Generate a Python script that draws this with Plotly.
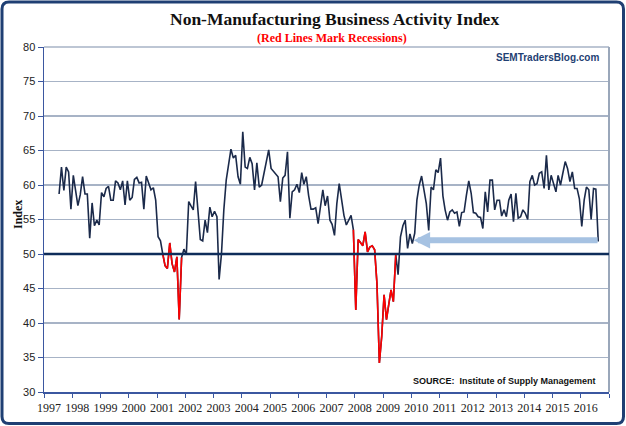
import pandas as pd
import plotly.graph_objects as go

# Monthly ISM Non-Manufacturing Business Activity Index, Jul 1997 - Aug 2016
start_month = "1997-07-01"
index_values = [
    # 1997 (Jul-Dec)
    58.7, 62.6, 59.2, 62.6, 61.9, 56.5,
    # 1998
    61.4, 59.0, 57.0, 58.6, 61.2, 58.7, 58.7, 52.3, 57.4, 54.1, 54.9, 54.2,
    # 1999
    58.9, 58.3, 59.5, 59.8, 57.8, 57.8, 60.6, 60.3, 59.3, 60.6, 57.1, 60.6,
    # 2000
    57.8, 58.2, 60.8, 61.1, 60.3, 60.4, 56.5, 61.3, 60.4, 59.3, 59.6, 57.8,
    # 2001
    52.5, 51.9, 50.1, 48.3, 47.9, 51.6, 48.6, 47.4, 49.6, 40.5, 49.5, 50.7,
    # 2002
    49.9, 57.6, 57.0, 56.4, 60.5, 56.4, 52.1, 51.9, 54.9, 53.1, 56.8, 55.4,
    # 2003
    56.2, 55.4, 46.3, 50.1, 56.4, 60.7, 63.1, 65.2, 63.9, 64.3, 61.2, 60.1,
    # 2004
    67.7, 62.6, 62.4, 64.0, 63.1, 59.3, 63.2, 59.7, 60.0, 61.7, 63.2, 65.1,
    # 2005
    62.4, 62.0, 61.7, 61.2, 57.6, 61.0, 61.4, 64.8, 55.2, 59.0, 59.3, 60.1,
    # 2006
    58.9, 61.8, 60.1, 61.2, 58.5, 56.5, 56.5, 56.7, 54.4, 56.8, 59.3, 57.0,
    # 2007
    58.4, 54.9, 54.3, 52.7, 57.3, 60.2, 57.8, 55.6, 54.2, 55.0, 55.6, 53.5,
    # 2008
    41.9, 52.1, 51.6, 51.2, 53.2, 50.3, 51.0, 51.2, 50.6, 45.7, 34.2, 38.0,
    # 2009
    44.1, 40.5, 42.6, 44.8, 43.1, 49.9, 47.0, 52.5, 54.1, 54.9, 50.8, 52.9,
    # 2010
    51.5, 53.0, 57.8, 60.0, 61.3, 59.3, 57.3, 53.4, 59.7, 59.3, 62.2, 61.8,
    # 2011
    63.9, 58.4, 56.4, 54.9, 56.1, 56.4, 55.9, 56.1, 54.0, 56.0, 56.1, 58.5,
    # 2012
    60.6, 58.8, 56.0, 55.9, 55.4, 55.3, 53.7, 59.0, 56.1, 60.7, 60.7, 56.4,
    # 2013
    57.8, 57.8, 55.5, 56.4, 55.4, 57.8, 58.7, 54.7, 58.8, 55.2, 55.4, 56.4,
    # 2014
    55.9, 55.0, 60.5, 61.4, 60.0, 60.2, 61.7, 61.9, 59.5, 64.3, 59.3, 61.4,
    # 2015
    60.2, 59.0, 61.4, 60.0, 61.7, 63.4, 62.4, 60.5, 61.9, 59.5, 59.5, 58.0,
    # 2016 (Jan-Aug)
    54.0, 57.8, 59.7, 59.3, 55.0, 59.5, 59.4, 51.8,
]

# NBER recessions (first and last month drawn in red)
recessions = [("2001-03-01", "2001-11-01"), ("2007-12-01", "2009-06-01")]

year_ticks = list(range(1997, 2018))
year_labels = [str(y) for y in range(1997, 2017)] + [""]
y_ticks = [30, 35, 40, 45, 50, 55, 60, 65, 70, 75, 80]

months = pd.date_range(start_month, periods=len(index_values), freq="MS")
x_dates = months + pd.Timedelta(days=14)

red_values = []
for m, v in zip(months, index_values):
    in_rec = any(pd.Timestamp(a) <= m <= pd.Timestamp(b) for a, b in recessions)
    red_values.append(v if in_rec else None)

fig = go.Figure()
fig.add_trace(go.Scatter(x=x_dates, y=index_values, mode="lines",
                         line=dict(color="#1B2A4A", width=1.6), hoverinfo="skip"))
fig.add_trace(go.Scatter(x=x_dates, y=red_values, mode="lines",
                         line=dict(color="#FF0000", width=1.6), connectgaps=False,
                         hoverinfo="skip"))

grid_col = "#A7B3C6"
axis_col = "#3B57A0"

fig.update_layout(
    width=626, height=426,
    margin=dict(l=44, r=17, t=47, b=34, autoexpand=False),
    paper_bgcolor="white", plot_bgcolor="white",
    showlegend=False,
    xaxis=dict(type="date", range=["1997-01-01", "2017-01-01"], automargin=False,
               tickvals=[f"{y}-01-01" for y in year_ticks], ticktext=year_labels,
               showgrid=False, showline=True, linecolor=axis_col, linewidth=1.5,
               ticks="outside", ticklen=4, tickcolor=axis_col, tickwidth=1,
               ticklabelshift=5,
               tickfont=dict(family="Liberation Serif", size=12, color="#222222"),
               zeroline=False),
    yaxis=dict(range=[30, 80], tickvals=y_ticks, automargin=False,
               showgrid=True, gridcolor=grid_col, gridwidth=1.5,
               showline=True, linecolor=axis_col, linewidth=1.5,
               ticks="outside", ticklen=5, tickcolor=axis_col,
               tickfont=dict(family="Liberation Sans", size=11, color="#222222"),
               zeroline=False),
)

# Border of plot area (top and right), the 50 line, and the outer frame
fig.add_shape(type="line", xref="paper", yref="paper", x0=0, x1=1, y0=1, y1=1,
              line=dict(color=grid_col, width=1.5))
fig.add_shape(type="line", xref="paper", yref="paper", x0=1, x1=1, y0=0, y1=1,
              line=dict(color="#9AA7BA", width=2))
fig.add_shape(type="line", xref="paper", yref="y", x0=0, x1=1, y0=50, y1=50,
              line=dict(color="#0F2D5A", width=2.5))

# outer rounded frame in paper coordinates
W, H = 565.0, 345.0
def px(xp):
    return (xp - 44) / W
def py(yp):
    return (392 - yp) / H
l, r, t, b, rad = 2.0, 623.5, 2.0, 423.5, 7
path = (f"M {px(l+rad)},{py(t)} L {px(r-rad)},{py(t)} Q {px(r)},{py(t)} {px(r)},{py(t+rad)} "
        f"L {px(r)},{py(b-rad)} Q {px(r)},{py(b)} {px(r-rad)},{py(b)} "
        f"L {px(l+rad)},{py(b)} Q {px(l)},{py(b)} {px(l)},{py(b-rad)} "
        f"L {px(l)},{py(t+rad)} Q {px(l)},{py(t)} {px(l+rad)},{py(t)} Z")
fig.add_shape(type="path", xref="paper", yref="paper", path=path,
              line=dict(color="#1F3F73", width=3))

# light-blue arrow pointing to the latest reading
fig.add_annotation(x="2010-02-01", y=52.0, ax="2016-08-25", ay=52.0,
                   xref="x", yref="y", axref="x", ayref="y",
                   text="", showarrow=True, arrowhead=2, arrowsize=0.55,
                   arrowwidth=6, arrowcolor="#A6C2E2")

fig.add_annotation(xref="paper", yref="paper", x=px(334), y=py(19),
                   text="<b>Non-Manufacturing Business Activity Index</b>",
                   showarrow=False, xanchor="center", yanchor="middle",
                   font=dict(family="Liberation Serif", size=17.5, color="#111111"))
fig.add_annotation(xref="paper", yref="paper", x=px(332), y=py(38),
                   text="<b>(Red Lines Mark Recessions)</b>",
                   showarrow=False, xanchor="center", yanchor="middle",
                   font=dict(family="Liberation Serif", size=12, color="#FF0000"))
fig.add_annotation(xref="paper", yref="paper", x=px(601), y=py(57),
                   text="<b>SEMTradersBlog.com</b>",
                   showarrow=False, xanchor="right", yanchor="middle",
                   font=dict(family="Liberation Sans", size=10, color="#1F3F73"))
fig.add_annotation(xref="paper", yref="paper", x=px(598), y=py(381),
                   text="<b>SOURCE:  Institute of Supply Management</b>",
                   showarrow=False, xanchor="right", yanchor="middle",
                   font=dict(family="Liberation Sans", size=9, color="#111111"))
fig.add_annotation(xref="paper", yref="paper", x=px(18), y=py(215),
                   text="<b>Index</b>", textangle=-90,
                   showarrow=False, xanchor="center", yanchor="middle",
                   font=dict(family="Liberation Serif", size=12, color="#111111"))

fig.write_html("out.html",
               config={"displayModeBar": False, "staticPlot": True},
               post_script="document.body.style.margin='0';document.body.style.overflow='hidden';")
